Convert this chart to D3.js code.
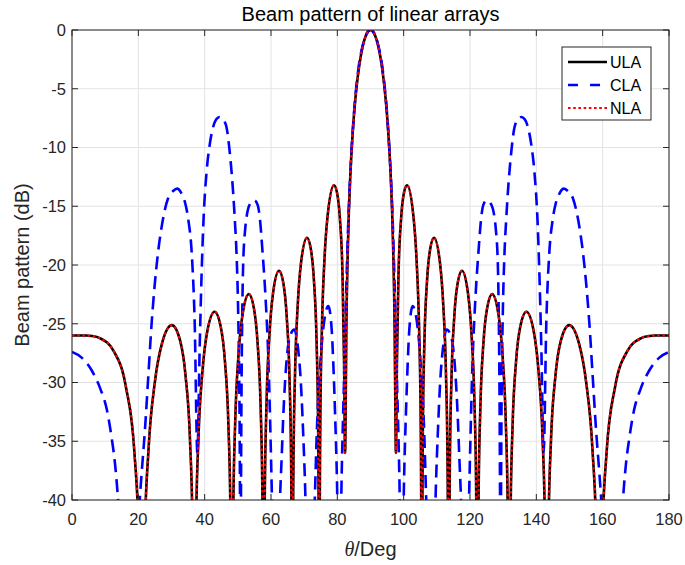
<!DOCTYPE html>
<html><head><meta charset="utf-8">
<script src="https://cdn.jsdelivr.net/npm/d3@7"></script>
<style>
body{margin:0;background:#fff;}
text{font-family:"Liberation Sans",Arial,Helvetica,sans-serif;}
</style>
</head><body>
<svg id="chart" width="685" height="565"></svg>
<script>
// ---------------- data ----------------
const xTicks = [0, 20, 40, 60, 80, 100, 120, 140, 160, 180];
const yTicks = [0, -5, -10, -15, -20, -25, -30, -35, -40];
const seriesNames = ["ULA", "CLA", "NLA"];

const ulaTheta = [0, 2.09, 4.19, 5.92, 8.38, 12.58, 16.26, 18.8, 20.17, 20.78, 21.04,
  21.29, 21.87, 23.07, 24.95, 27.04, 30.11, 32.58, 34.24, 35.58, 36.36, 36.72, 36.87,
  37.02, 37.38, 38.13, 39.35, 40.77, 43.0, 44.82, 46.11, 47.16, 47.78, 48.07, 48.19,
  48.31, 48.6, 49.21, 50.21, 51.39, 53.32, 54.83, 55.94, 56.86, 57.41, 57.66, 57.77,
  57.88, 58.13, 58.67, 59.56, 60.62, 62.42, 63.73, 64.74, 65.59, 66.09, 66.32, 66.42,
  66.52, 66.76, 67.25, 68.08, 69.06, 70.85, 71.98, 72.94, 73.74, 74.22, 74.44, 74.53,
  74.63, 74.85, 75.33, 76.11, 77.06, 78.98, 79.86, 80.79, 81.57, 82.03, 82.34,
  82.57, 82.72, 83.11, 83.49, 83.88, 84.65, 85.41, 86.18, 86.94, 87.71, 88.47, 89.24, 90,
  90.76, 91.53, 92.29, 93.06, 93.82, 94.59, 95.35, 96.12, 96.51, 96.89, 97.28, 97.43,
  97.66, 97.97, 98.43, 99.21, 100.14, 101.02, 102.94, 103.89, 104.67, 105.15, 105.37,
  105.47, 105.56, 105.78, 106.26, 107.06, 108.02, 109.15, 110.94, 111.92, 112.75, 113.24, 113.48,
  113.58, 113.68, 113.91, 114.41, 115.26, 116.27, 117.58, 119.38, 120.44, 121.33, 121.87, 122.12,
  122.23, 122.34, 122.59, 123.14, 124.06, 125.17, 126.68, 128.61, 129.79, 130.79, 131.4, 131.69,
  131.81, 131.93, 132.22, 132.84, 133.89, 135.18, 137.0, 139.23, 140.65, 141.87, 142.62, 142.98,
  143.13, 143.28, 143.64, 144.42, 145.76, 147.42, 149.89, 152.96, 155.05, 156.93, 158.13, 158.71,
  158.96, 159.22, 159.83, 161.2, 163.74, 167.42, 171.62, 174.08, 175.81, 177.91, 180];
const ulaDb = [-26.0, -26.0, -26.0, -26.04, -26.22, -27.33, -30.38, -35.88, -43.67, -54.08, -70,
  -54.06, -43.6, -35.71, -30.03, -26.77, -25.12, -26.41, -29.43, -34.91, -42.68, -53.08, -70,
  -53.06, -42.59, -34.68, -28.98, -25.68, -23.98, -25.22, -28.2, -33.64, -41.39, -51.79, -70,
  -51.75, -41.27, -33.34, -27.6, -24.27, -22.48, -23.66, -26.58, -31.98, -39.7, -50.08, -70,
  -50.04, -39.54, -31.58, -25.79, -22.39, -20.49, -21.56, -24.41, -29.73, -37.41, -47.77, -70,
  -47.7, -37.19, -29.18, -23.31, -19.8, -17.68, -18.59, -21.29, -26.48, -34.07, -44.39, -70,
  -44.29, -33.73, -25.63, -19.58, -15.85, -13.21, -13.78, -16.11, -20.94, -28.3, -36.0,
  -30.18, -25.59, -19.21, -15.37, -12.6, -8.67, -5.93, -3.92, -2.42, -1.32, -0.58, -0.14, 0,
  -0.14, -0.58, -1.32, -2.42, -3.92, -5.93, -8.67, -12.6, -15.37, -19.21, -25.59, -30.18,
  -36.0, -28.3, -20.94, -16.11, -13.78, -13.21, -15.85, -19.58, -25.63, -33.73, -44.29,
  -70, -44.39, -34.07, -26.48, -21.29, -18.59, -17.68, -19.8, -23.31, -29.18, -37.19, -47.7,
  -70, -47.77, -37.41, -29.73, -24.41, -21.56, -20.49, -22.39, -25.79, -31.58, -39.54, -50.04,
  -70, -50.08, -39.7, -31.98, -26.58, -23.66, -22.48, -24.27, -27.6, -33.34, -41.27, -51.75,
  -70, -51.79, -41.39, -33.64, -28.2, -25.22, -23.98, -25.68, -28.98, -34.68, -42.59, -53.06,
  -70, -53.08, -42.68, -34.91, -29.43, -26.41, -25.12, -26.77, -30.03, -35.71, -43.6, -54.06,
  -70, -54.08, -43.67, -35.88, -30.38, -27.33, -26.22, -26.04, -26.0, -26.0, -26.0];

const claTheta = [0, 3, 6, 8.5, 10.5, 12, 13, 14, 15.5, 17, 18.5, 20.3, 21, 22, 23, 24, 25, 26, 27, 28,
  29, 30.5, 31.7, 33, 34.1, 35.1, 36.1, 37, 37.8, 38.5, 39, 39.6, 40.6, 41.5, 42.5, 43.5, 44.5, 45.5,
  46.6, 47.6, 48.6, 49.1, 49.6, 50.1, 50.5, 50.8, 51.1, 51.6, 52.2, 52.7, 53.7, 55, 56, 56.7, 57.4,
  58.3, 59.2, 59.8, 60.3, 61.4, 62.7, 63.2, 63.7, 64.7, 65.7, 67, 68.2, 69, 69.7, 70.3, 71.5, 73.2,
  73.8, 74.8, 75.8, 77.3, 78.3, 78.8, 79.3, 79.9, 80.6, 81.3, 82, 82.7, 83.4, 84.1, 84.9, 85.7, 86.5,
  87.3, 88.1, 88.9, 90,
  91.1, 91.9, 92.7, 93.5, 94.3, 95.1, 95.9, 96.6, 97.3, 98, 98.7, 99.4, 100.1, 100.7, 101.2, 101.7,
  102.7, 104.2, 105.2, 106.2, 106.8, 108.5, 109.7, 110.3, 111, 111.8, 113, 114.3, 115.3, 116.3, 116.8,
  117.3, 118.6, 119.7, 120.2, 120.8, 121.7, 122.6, 123.3, 124, 125, 126.3, 127.3, 127.8, 128.4, 128.9,
  129.2, 129.5, 129.9, 130.4, 130.9, 131.4, 132.4, 133.4, 134.5, 135.5, 136.5, 137.5, 138.5, 139.4,
  140.4, 141, 141.5, 142.2, 143, 143.9, 144.9, 145.9, 147, 148.3, 149.5, 151, 152, 153, 154, 155, 156,
  157, 158, 159, 159.7, 161.5, 163, 164.5, 166, 167, 168, 169.5, 171.5, 174, 177, 180];
const claDb = [-27.4, -27.9, -29.0, -30.5, -32.3, -34.8, -37.0, -40.5, -50, -65, -50, -40.5, -37.7, -34.0,
  -29.5, -25.0, -21.5, -18.8, -16.8, -15.3, -14.3, -13.7, -13.5, -13.9, -14.7, -16.2, -19.0, -25, -36,
  -27, -21.5, -16.5, -12.0, -9.8, -8.3, -7.6, -7.4, -7.6, -8.3, -10.5, -13.9, -16.2, -19.0, -24, -32,
  -45, -31, -20, -17, -15.8, -14.8, -14.5, -14.9, -16.2, -18.7, -22.5, -28.0, -34, -40, -55, -40, -36.5,
  -32.9, -28.1, -26.1, -25.5, -27.2, -30.0, -34.3, -39, -55, -40, -34.3, -28.7, -25.3, -23.5, -25.5,
  -28.5, -32.5, -38.5, -50, -38, -30, -22, -15.5, -11.2, -7.5, -4.9, -3.0, -1.75, -0.85, -0.27, 0,
  -0.27, -0.85, -1.75, -3.0, -4.9, -7.5, -11.2, -15.5, -22, -30, -38, -50, -38.5, -32.5, -28.5, -25.5,
  -23.5, -25.3, -28.7, -34.3, -40, -55, -39, -34.3, -30.0, -27.2, -25.5, -26.1, -28.1, -32.9, -36.5,
  -40, -55, -40, -34, -28.0, -22.5, -18.7, -16.2, -14.9, -14.5, -14.8, -15.8, -17, -20, -31, -45, -32,
  -24, -19.0, -16.2, -13.9, -10.5, -8.3, -7.6, -7.4, -7.6, -8.3, -9.8, -12.0, -16.5, -21.5, -27, -36,
  -25, -19.0, -16.2, -14.7, -13.9, -13.5, -13.7, -14.3, -15.3, -16.8, -18.8, -21.5, -25.0, -29.5, -34.0,
  -37.7, -40.5, -50, -65, -50, -40.5, -37.0, -34.8, -32.3, -30.5, -29.0, -27.9, -27.4];

// NLA coincides with ULA in the reference
const nlaTheta = ulaTheta;
const nlaDb = ulaDb;

// ---------------- drawing ----------------
const svg = d3.select("#chart");
const L = 72, R = 669, T = 30, B = 500;
const x = d3.scaleLinear().domain([0, 180]).range([L, R]);
const y = d3.scaleLinear().domain([-40, 0]).range([B, T]);
const axisColor = "#262626";

svg.append("rect").attr("width", 685).attr("height", 565).attr("fill", "#fff");

// grid
const grid = svg.append("g").attr("stroke", "#e3e3e3").attr("stroke-width", 1);
xTicks.forEach(t => grid.append("line").attr("x1", x(t)).attr("x2", x(t)).attr("y1", T).attr("y2", B));
yTicks.forEach(t => grid.append("line").attr("y1", y(t)).attr("y2", y(t)).attr("x1", L).attr("x2", R));

svg.append("defs").append("clipPath").attr("id", "clip")
  .append("rect").attr("x", L).attr("y", T).attr("width", R - L).attr("height", B - T);

const toPts = (th, db) => th.map((t, i) => [t, db[i]]);
const line = d3.line().x(d => x(d[0])).y(d => y(d[1])).curve(d3.curveMonotoneX);

const plot = svg.append("g").attr("clip-path", "url(#clip)");
plot.append("path").datum(toPts(ulaTheta, ulaDb)).attr("d", line)
  .attr("fill", "none").attr("stroke", "#000").attr("stroke-width", 2.6).attr("stroke-linejoin", "round");
plot.append("path").datum(toPts(claTheta, claDb)).attr("d", line)
  .attr("fill", "none").attr("stroke", "#0000ff").attr("stroke-width", 2.6)
  .attr("stroke-dasharray", "13,7");
plot.append("path").datum(toPts(nlaTheta, nlaDb)).attr("d", line)
  .attr("fill", "none").attr("stroke", "#ff0000").attr("stroke-width", 2.2)
  .attr("stroke-dasharray", "2.6,2.6");

// axes box
svg.append("rect").attr("x", L).attr("y", T).attr("width", R - L).attr("height", B - T)
  .attr("fill", "none").attr("stroke", axisColor).attr("stroke-width", 1);

const tickLen = 6;
const tk = svg.append("g").attr("stroke", axisColor).attr("stroke-width", 1);
xTicks.forEach(t => {
  tk.append("line").attr("x1", x(t)).attr("x2", x(t)).attr("y1", B).attr("y2", B - tickLen);
  tk.append("line").attr("x1", x(t)).attr("x2", x(t)).attr("y1", T).attr("y2", T + tickLen);
});
yTicks.forEach(t => {
  tk.append("line").attr("y1", y(t)).attr("y2", y(t)).attr("x1", L).attr("x2", L + tickLen);
  tk.append("line").attr("y1", y(t)).attr("y2", y(t)).attr("x1", R).attr("x2", R - tickLen);
});

// tick labels
svg.append("g").selectAll("text").data(xTicks).join("text")
  .attr("x", d => x(d)).attr("y", B + 25).attr("text-anchor", "middle")
  .attr("font-size", 16.5).attr("fill", axisColor).text(d => d);
svg.append("g").selectAll("text").data(yTicks).join("text")
  .attr("x", L - 6).attr("y", d => y(d)).attr("dy", "0.35em").attr("text-anchor", "end")
  .attr("font-size", 16.5).attr("fill", axisColor).text(d => d);

// titles
svg.append("text").attr("x", (L + R) / 2).attr("y", 21).attr("text-anchor", "middle")
  .attr("font-size", 20).attr("fill", "#000").text("Beam pattern of linear arrays");
const xl = svg.append("text").attr("x", (L + R) / 2).attr("y", 556).attr("text-anchor", "middle")
  .attr("font-size", 20).attr("fill", axisColor);
xl.append("tspan").attr("font-style", "italic").attr("font-family", "'Liberation Serif','Times New Roman',serif").text("θ");
xl.append("tspan").text("/Deg");
svg.append("text").attr("transform", `translate(29,${(T + B) / 2}) rotate(-90)`)
  .attr("text-anchor", "middle").attr("font-size", 20).attr("fill", axisColor)
  .text("Beam pattern (dB)");

// legend
const lg = svg.append("g");
lg.append("rect").attr("x", 562).attr("y", 47).attr("width", 89).attr("height", 73)
  .attr("fill", "#fff").attr("stroke", axisColor).attr("stroke-width", 1);
const legStyles = [
  {c: "#000", w: 2.6, dash: null},
  {c: "#0000ff", w: 2.6, dash: "10,12"},
  {c: "#ff0000", w: 2.2, dash: "2.6,2.6"}
];
seriesNames.forEach((nm, i) => {
  const yy = 62 + i * 23;
  const ln = lg.append("line").attr("x1", 568).attr("x2", 607).attr("y1", yy).attr("y2", yy)
    .attr("stroke", legStyles[i].c).attr("stroke-width", legStyles[i].w);
  if (legStyles[i].dash) ln.attr("stroke-dasharray", legStyles[i].dash);
  lg.append("text").attr("x", 610).attr("y", yy).attr("dy", "0.36em").attr("font-size", 16)
    .attr("fill", "#000").text(nm);
});
</script>
</body></html>
